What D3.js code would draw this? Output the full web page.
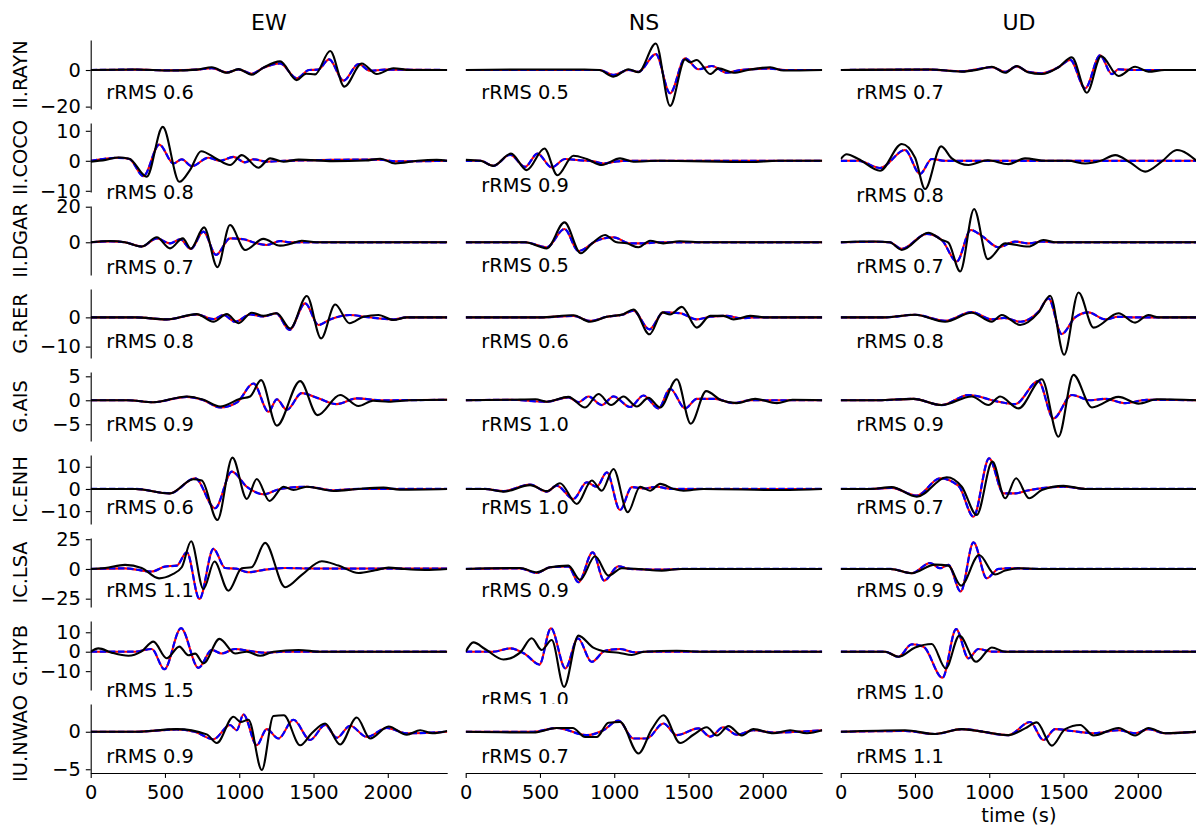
<!DOCTYPE html>
<html>
<head>
<meta charset="utf-8">
<script src="https://cdn.jsdelivr.net/npm/d3@7"></script>
<style>
  body { margin: 0; background: #fff; }
  svg { font-family: "DejaVu Sans", sans-serif; }
</style>
</head>
<body>
<div id="chart"></div>
<script>
// stations (rows) and components (columns)
const stations = ["II.RAYN", "II.COCO", "II.DGAR", "G.RER", "G.AIS", "IC.ENH", "IC.LSA", "G.HYB", "IU.NWAO"];
const components = ["EW", "NS", "UD"];
const rrms = [
    [0.6, 0.5, 0.7], [0.8, 0.9, 0.8], [0.7, 0.5, 0.7],
    [0.8, 0.6, 0.8], [0.9, 1.0, 0.9], [0.6, 1.0, 0.7],
    [1.1, 0.9, 0.9], [1.5, 1.0, 1.0], [0.9, 0.7, 1.1]
];
// y limits and ticks per row (shared across a row)
const yLims = [[-21.3, 16.4], [-10.4, 12.6], [-18.4, 20.4], [-13.9, 9.7], [-8.5, 5.9],
               [-15.8, 15.3], [-32, 26], [-19.7, 15.8], [-5.5, 3.7]];
const yTicks = [[-20, 0], [-10, 0, 10], [0, 20], [-10, 0], [-5, 0, 5],
                [-10, 0, 10], [-25, 0, 25], [-10, 0, 10], [-5, 0]];
const xTicks = [0, 500, 1000, 1500, 2000];
const xMax = 2400;
// where the rRMS note sits (time, amplitude)
const rmsTime = 105;
const rmsAt = [[-15.8, -15.8, -15.8], [-12.8, -10.3, -13.7], [-18, -16.5, -17.1],
               [-10.6, -10.6, -10.6], [-6.4, -6.4, -6.4], [-11.4, -11.4, -11.4],
               [-23.3, -23.3, -23.3], [-23.5, -28, -24.4], [-4.1, -4.1, -4.1]];

// waveforms: [time (s), amplitude], per component EW/NS/UD
const RAYN_obs = [
    [[0,0],[300,0.3],[540,-0.3],[714,0.2],[815,1.5],[916,-1.5],[995,0.5],[1084,-2.5],[1163,1.3],[1275,4.7],[1387,-5.5],[1450,-2.0],[1511,-2.4],[1612,10.4],[1708,-9.1],[1825,3.6],[1926,-2.2],[2038,1.0],[2150,0],[2400,0]],
    [[0,0],[400,0.3],[800,0.3],[900,0],[995,-3.6],[1096,0.4],[1163,-1.2],[1280,14.5],[1376,-19.6],[1477,5.8],[1511,4.2],[1556,5.5],[1646,-2.2],[1702,0.9],[1803,-1.5],[1900,0],[2050,1.5],[2140,-0.3],[2400,0]],
    [[0,0],[600,0.3],[815,-0.9],[930,0.3],[1017,1.8],[1107,-1.5],[1185,2.2],[1260,-1.2],[1354,-2.2],[1466,1.5],[1556,6.9],[1657,-12.4],[1753,7.6],[1870,-3.3],[1982,1.8],[2072,-0.9],[2180,0],[2400,0]]
];
const RAYN_syn = [
    [[0,0],[300,0.2],[540,-0.2],[714,0.2],[815,1.0],[916,-1.3],[995,0.3],[1084,-2.0],[1163,1.2],[1275,3.6],[1387,-4.5],[1470,0],[1530,0.2],[1605,5.8],[1702,-5.8],[1803,3.3],[1881,-0.4],[1980,0.2],[2400,0]],
    [[0,0],[900,0],[995,-2.7],[1096,0],[1163,-1],[1280,8.7],[1376,-12.7],[1477,6.4],[1567,0.4],[1657,2.2],[1758,-1.5],[1848,0],[2050,0.8],[2150,0],[2400,0]],
    [[0,0],[600,0.2],[815,-0.7],[1017,1.5],[1107,-1],[1185,2],[1260,-1],[1354,-1.8],[1466,1.5],[1545,5.5],[1646,-10],[1746,8],[1825,-2.2],[1870,0.4],[1950,0],[2400,0]]
];
const COCO_obs = [
    [[0,-0.3],[100,0.3],[186,1.1],[260,0.7],[377,-5.3],[485,11.3],[597,-7],[669,-3],[743,3.2],[849,0.6],[938,-1.4],[1017,1.9],[1129,-2.3],[1208,0.8],[1298,-0.3],[1400,0.4],[1630,-0.1],[1850,0.1],[1949,0.7],[2050,-0.9],[2200,0],[2330,0.3],[2400,0]],
    [[0,0.3],[100,0],[186,-1.7],[305,2.4],[411,-3.1],[530,4.1],[617,-4.8],[725,1.7],[815,0.6],[916,-1.4],[1039,0.8],[1129,-0.3],[1300,0],[1920,-0.4],[2100,0],[2400,0]],
    [[0,0.6],[40,2.2],[119,0.6],[265,-3.3],[411,5.6],[501,1],[568,-9.4],[676,4.8],[748,0.8],[860,-1.4],[990,0.2],[1129,-1.1],[1241,0.8],[1380,0],[1530,0],[1646,-0.9],[1750,0],[1848,1.9],[1950,-0.6],[2050,-3.6],[2160,-0.3],[2263,3.6],[2400,-0.2]]
];
const COCO_syn = [
    [[0,0],[186,1],[260,0.6],[355,-5.1],[462,5.4],[557,-0.9],[613,0.5],[680,-1.8],[792,1],[870,0],[961,1.3],[1039,-0.5],[1096,0.5],[1185,-0.3],[1300,0],[1949,0.4],[2050,-0.2],[2400,0]],
    [[0,0],[100,0],[186,-1.7],[299,2],[400,-2],[483,2.4],[579,-2.2],[669,0.6],[760,0.2],[860,-0.2],[927,-0.9],[1017,-0.2],[1100,0],[2400,0]],
    [[0,0],[119,0],[265,-2.4],[433,3.6],[534,-4.4],[613,0.6],[700,0],[2400,0]]
];
const DGAR_obs = [
    [[0,0],[130,0.7],[230,0],[343,-2.4],[445,2.8],[534,-3.4],[620,2.2],[674,-3.6],[763,8.4],[853,-14],[938,9.7],[1039,-4.3],[1163,1.9],[1275,-1.9],[1340,-1],[1421,0.9],[1520,0],[2400,0]],
    [[0,0],[400,0],[546,-3.4],[665,11.2],[775,-6.2],[849,-0.8],[938,4.1],[1010,0.2],[1084,-0.6],[1163,-2.8],[1241,0.9],[1330,-0.6],[1440,0.6],[1600,0],[2400,0]],
    [[0,0],[130,0.4],[231,0.4],[330,0],[411,-4.3],[590,5.4],[680,1.3],[725,-0.2],[804,-16.4],[898,18.7],[990,-9.5],[1107,-0.6],[1264,-2.4],[1365,1.3],[1440,0],[2400,0]]
];
const DGAR_syn = [
    [[0,0],[130,0.5],[230,0],[343,-2.4],[445,2.2],[534,-0.6],[602,1.7],[674,-3.7],[759,6],[844,-7.1],[938,2.2],[1028,1.7],[1118,-0.6],[1185,-1.5],[1275,0.7],[1340,0],[2400,0]],
    [[0,0],[400,0],[546,-2.8],[665,7.5],[759,-4.9],[882,0.9],[995,2.8],[1107,-0.6],[1200,-0.6],[1290,0],[2400,0]],
    [[0,0],[231,0.3],[330,0],[411,-3.7],[579,4.7],[680,1.3],[781,-10.8],[876,6.9],[950,3.6],[1062,-2.8],[1174,0.4],[1264,-0.6],[1354,0.4],[1440,0],[2400,0]]
];
const RER_obs = [
    [[0,0],[300,0],[512,-0.7],[714,1.1],[826,-1.5],[916,1.1],[995,-2],[1084,1.6],[1163,0.5],[1253,1.4],[1343,-3.8],[1455,7.3],[1551,-7.2],[1646,4.4],[1742,-2],[1836,0.2],[1937,0.8],[2038,-0.9],[2128,0],[2400,0]],
    [[0,0],[500,0],[725,0.7],[837,-1.5],[950,0.2],[1062,1.1],[1129,2.7],[1237,-5.8],[1325,1.7],[1376,1],[1455,3.6],[1556,-3.5],[1646,0.5],[1735,0.5],[1803,-0.7],[1915,0.5],[2020,0],[2400,0]],
    [[0,0],[300,0],[501,0.9],[703,-1.5],[882,1.6],[1017,-1.5],[1084,0.8],[1208,-2.6],[1331,1.6],[1410,7.4],[1504,-12.8],[1601,8.5],[1702,-3.5],[1870,1.4],[1982,-1.8],[2072,0.8],[2140,0],[2400,0]]
];
const RER_syn = [
    [[0,0],[300,0],[512,-0.7],[714,1],[826,-0.6],[894,0.8],[973,-1.5],[1073,1],[1163,0.3],[1248,1.4],[1338,-4.3],[1444,4.8],[1533,-2.6],[1612,-0.7],[1746,0.8],[1860,0.1],[2038,-0.7],[2128,0],[2400,0]],
    [[0,0],[500,0],[725,0.5],[837,-1.2],[950,0.2],[1062,1],[1129,2.3],[1237,-4.1],[1331,1.7],[1444,1.4],[1556,-0.7],[1646,0.2],[1758,0.5],[1848,-0.3],[1950,0],[2400,0]],
    [[0,0],[300,0],[501,0.9],[703,-1.2],[882,1.8],[1017,-0.7],[1100,-0.2],[1208,-1.5],[1331,1.9],[1399,6.5],[1488,-5.7],[1578,0],[1668,1.7],[1780,-0.7],[1870,0.2],[1960,0],[2400,0]]
];
const AIS_obs = [
    [[0,0],[250,0],[422,-0.4],[647,0.8],[760,0.1],[871,-1.3],[1006,0.3],[1073,0.8],[1147,4.2],[1253,-5.3],[1410,4],[1527,-3.1],[1679,1.1],[1803,-1.2],[1900,-0.1],[2005,-0.3],[2150,0],[2400,0.1]],
    [[0,0],[300,0.1],[470,0.2],[546,-0.3],[691,0.7],[804,-1.5],[894,1.3],[979,-1],[1062,0.8],[1152,-1.3],[1230,0.5],[1309,-1.5],[1421,4.4],[1515,-4.9],[1619,1.9],[1720,0],[1825,-0.6],[1949,0.3],[2095,-0.6],[2200,0.1],[2400,0]],
    [[0,0],[250,0],[489,0.3],[680,-1],[882,0.8],[995,-1],[1073,0.8],[1197,-1.7],[1354,4.4],[1466,-7.6],[1567,5.3],[1691,-1.5],[1870,0.7],[2005,-0.7],[2130,0.2],[2400,0]]
];
const AIS_syn = [
    [[0,0],[250,0],[422,-0.4],[647,0.7],[760,0],[871,-1.5],[983,-0.5],[1096,3.5],[1197,-2.4],[1253,0.2],[1320,-2],[1421,1.5],[1533,0.4],[1657,-0.8],[1791,0.4],[1950,0],[2400,0.1]],
    [[0,0],[300,0.1],[546,-0.3],[691,0.6],[760,-0.4],[826,0.8],[916,-1],[995,0.8],[1107,-1.4],[1197,1],[1298,-1.7],[1376,2.4],[1477,-1.7],[1556,0.3],[1680,0.3],[1803,-0.6],[1915,0],[2400,0]],
    [[0,0],[250,0],[489,0.3],[680,-1],[860,1.1],[1062,-0.3],[1174,-0.8],[1331,4],[1432,-3.8],[1556,1.1],[1680,0],[1780,0.3],[1915,-0.6],[2060,0.1],[2400,0]]
];
const ENH_obs = [
    [[0,0],[300,0],[534,-2],[691,4.4],[748,3.8],[853,-14],[954,14.1],[1051,-4.5],[1118,4.5],[1203,-5.4],[1298,1],[1365,-0.5],[1455,1],[1634,-0.9],[1800,0],[1971,0.6],[2080,-0.3],[2400,0]],
    [[0,0],[130,0],[254,-1.2],[433,1.7],[546,-1],[635,2.6],[748,-6.8],[849,3.8],[916,-0.8],[995,9],[1091,-10.5],[1174,1],[1241,-0.8],[1309,2.3],[1400,0],[1466,-0.8],[1600,0],[2130,-0.5],[2400,0]],
    [[0,0],[200,0],[343,0.8],[512,-3.5],[714,5.3],[815,1],[916,-11.7],[1021,12.3],[1107,-4.2],[1181,4.8],[1268,-4.2],[1354,-0.5],[1500,1.4],[1650,0],[2400,0]]
];
const ENH_syn = [
    [[0,0],[300,0],[534,-2],[703,4.8],[837,-8.7],[950,7.8],[1051,1],[1163,-2.4],[1275,0],[1455,1],[1634,-0.6],[1800,0],[2400,0]],
    [[0,0],[130,0],[254,-1],[433,2],[546,-1.2],[613,1.5],[725,-4.5],[815,3],[882,1],[950,7.5],[1039,-9.5],[1118,0.8],[1200,0.2],[1286,1],[1380,0],[2400,0]],
    [[0,0],[200,0],[343,0.5],[512,-3],[669,4.8],[794,1.3],[894,-12.5],[999,13.8],[1096,-2],[1174,-2],[1250,-0.8],[1500,1],[1650,0],[2400,0]]
];
const LSA_obs = [
    [[0,0],[97,0.8],[231,3.4],[343,0.8],[460,-7.9],[546,-4.8],[613,1.4],[676,23.3],[759,-16.9],[833,6.2],[927,-18.3],[1017,0.5],[1084,1.5],[1174,21.9],[1309,-15.4],[1421,-5],[1556,6.5],[1668,2.8],[1803,-3.4],[1915,-1.1],[2005,1.1],[2110,0],[2250,-0.8],[2400,0]],
    [[0,0],[366,0.8],[478,-2.8],[568,1.4],[691,2.8],[770,-9.2],[871,10.6],[961,-5.6],[1051,0.6],[1163,0],[1320,-1.4],[1450,0],[2400,0]],
    [[0,0],[335,0],[478,-3.6],[635,3.6],[725,2.8],[810,-14],[932,11.7],[1039,-4.7],[1107,-1.4],[1197,0.6],[1330,0],[2400,0]]
];
const LSA_syn = [
    [[0,0],[231,0.5],[411,-2.2],[501,2],[579,2.8],[647,14],[732,-25.3],[826,16.9],[905,0.8],[980,0.2],[1062,-2.8],[1174,-0.6],[1309,0.8],[1500,0.3],[2400,0.3]],
    [[0,0],[366,0.5],[478,-3.4],[568,1.4],[691,2],[759,-11.2],[855,14],[932,-9.8],[1028,2.2],[1107,0],[1320,-0.6],[1450,0],[2400,0]],
    [[0,0],[335,0],[478,-3.6],[602,5],[669,0.6],[725,3.4],[808,-19],[894,22.3],[983,-7.8],[1062,0],[1150,0.6],[1300,0],[2400,0]]
];
const HYB_obs = [
    [[0,0],[52,1.7],[141,-0.5],[254,-2.1],[340,0],[422,5.2],[512,-3.4],[597,2.6],[657,-1.8],[703,-1],[759,-6],[867,6.6],[972,-0.9],[1051,0],[1140,-2.1],[1230,0],[1399,0.9],[1550,0],[2400,0]],
    [[0,0],[52,4.8],[130,1.4],[254,-4],[366,-0.5],[444,6.9],[512,0.9],[579,6],[662,-18.1],[759,8.3],[859,2.1],[950,0],[1030,-0.5],[1118,-1.7],[1200,0],[1421,0.5],[1600,0],[2400,0]],
    [[0,0],[299,0],[388,-2.6],[501,2.2],[613,4],[707,-8.6],[799,8.3],[911,-5.2],[1017,2.2],[1107,0],[2400,0]]
];
const HYB_syn = [
    [[0,0],[299,0],[411,1.4],[496,-9],[608,12.1],[725,-8.3],[815,0.9],[882,-0.9],[972,1.4],[1062,0.5],[1174,-0.5],[1300,0],[2400,0]],
    [[0,0],[186,0],[299,1.7],[400,-1.2],[496,-6.6],[574,12.1],[671,-8.6],[755,6.9],[848,-5.2],[938,0.5],[1039,1.4],[1140,-0.3],[1220,0],[2400,0]],
    [[0,0],[299,0],[388,-2.6],[478,3.8],[557,2.6],[685,-13.4],[777,11.6],[860,-3.4],[927,1.4],[1017,0],[2400,0]]
];
const NWAO_obs = [
    [[0,0],[300,0],[579,0.35],[781,-0.35],[849,-1.5],[961,2],[1010,1.3],[1062,1.6],[1152,-5.1],[1230,2.1],[1300,2.2],[1410,-1.8],[1488,-0.2],[1578,1.1],[1679,-1.7],[1791,1.9],[1881,-0.9],[2005,0.7],[2128,-0.4],[2218,0.2],[2300,-0.2],[2400,0.1]],
    [[0,0],[456,-0.1],[613,0.5],[720,0.5],[804,-0.7],[882,-0.7],[961,1.2],[1039,1.3],[1163,-2.9],[1253,0.35],[1331,2.2],[1444,-1.5],[1533,-0.4],[1623,0.6],[1691,-0.5],[1769,0.75],[1859,-0.5],[1937,0.35],[2072,-0.2],[2184,0.2],[2297,-0.2],[2400,0.2]],
    [[0,0],[433,0.2],[635,-0.3],[815,0.35],[960,0],[1129,-0.45],[1241,0.45],[1320,1.25],[1421,-1.85],[1511,0.35],[1612,0.9],[1702,-0.5],[1870,0.5],[1982,-0.5],[2072,0.5],[2184,-0.2],[2400,0]]
];
const NWAO_syn = [
    [[0,0],[300,0],[579,0.3],[700,0],[826,-1],[938,0.9],[983,0.2],[1028,2.3],[1118,-1.8],[1185,0.35],[1264,-0.9],[1365,1.6],[1477,-1.1],[1578,0.9],[1657,-0.8],[1746,0.8],[1859,-0.7],[1993,0.5],[2128,-0.2],[2400,0]],
    [[0,0],[456,0],[613,0.5],[815,-0.45],[927,0.2],[1028,1.5],[1129,-0.9],[1219,-0.9],[1331,1.1],[1421,-0.45],[1567,0.45],[1646,-0.65],[1735,0.6],[1825,-0.4],[1937,0.2],[2072,-0.1],[2400,0.2]],
    [[0,0],[433,0.1],[635,-0.3],[815,0.35],[1129,-0.45],[1275,1.3],[1365,-1.1],[1444,0.35],[1556,0.1],[1702,-0.2],[1870,0.2],[1982,-0.2],[2072,0.35],[2184,-0.2],[2400,0]]
];

const observed = [RAYN_obs, COCO_obs, DGAR_obs, RER_obs, AIS_obs, ENH_obs, LSA_obs, HYB_obs, NWAO_obs];
const synthetic = [RAYN_syn, COCO_syn, DGAR_syn, RER_syn, AIS_syn, ENH_syn, LSA_syn, HYB_syn, NWAO_syn];

// layout
const width = 1196, height = 830;
const marginLeft = 90.7, marginTop = 40;
const panelW = 356.5, panelH = 69;
const colStep = 375, rowStep = 83;
const fontSize = 19.4;
const minus = d => d < 0 ? "\u2212" + Math.abs(d) : String(d);

const svg = d3.select("#chart").append("svg")
    .attr("width", width)
    .attr("height", height);

svg.append("rect").attr("width", width).attr("height", height).attr("fill", "#fff");

const x = d3.scaleLinear().domain([0, xMax]).range([0, panelW]);

// column titles
components.forEach((comp, c) => {
    svg.append("text")
        .attr("x", marginLeft + c * colStep + panelW / 2)
        .attr("y", 30)
        .attr("text-anchor", "middle")
        .attr("font-size", 22)
        .text(comp);
});

stations.forEach((st, r) => {
    const y = d3.scaleLinear().domain(yLims[r]).range([panelH, 0]);
    const line = d3.line()
        .x(d => x(d[0]))
        .y(d => y(d[1]))
        .curve(d3.curveMonotoneX);

    components.forEach((comp, c) => {
        const g = svg.append("g")
            .attr("transform", `translate(${marginLeft + c * colStep},${marginTop + r * rowStep})`);

        // axes background, covers anything spilling from the row above
        g.append("rect")
            .attr("width", panelW)
            .attr("height", panelH)
            .attr("fill", "#fff");

        const clipId = `clip-${r}-${c}`;
        g.append("clipPath").attr("id", clipId)
            .append("rect").attr("width", panelW).attr("height", panelH);

        const traces = g.append("g").attr("clip-path", `url(#${clipId})`);

        traces.append("path")
            .datum(synthetic[r][c])
            .attr("d", line)
            .attr("fill", "none")
            .attr("stroke", "red")
            .attr("stroke-width", 2.1);

        traces.append("path")
            .datum(synthetic[r][c])
            .attr("d", line)
            .attr("fill", "none")
            .attr("stroke", "blue")
            .attr("stroke-width", 2.2)
            .attr("stroke-dasharray", "6.5,2.6");

        traces.append("path")
            .datum(observed[r][c])
            .attr("d", line)
            .attr("fill", "none")
            .attr("stroke", "black")
            .attr("stroke-width", 2.1);

        // y axis only on the first column
        if (c === 0) {
            const ay = g.append("g")
                .call(d3.axisLeft(y)
                    .tickValues(yTicks[r])
                    .tickSize(4.9)
                    .tickSizeOuter(0)
                    .tickPadding(4.9)
                    .tickFormat(minus));
            ay.attr("font-size", fontSize).attr("font-family", "DejaVu Sans, sans-serif");
            ay.selectAll("line, path").attr("stroke", "#000").attr("stroke-width", 1.1);
            ay.selectAll("text").attr("fill", "#000");

            svg.append("text")
                .attr("transform", `translate(27,${marginTop + r * rowStep + panelH / 2}) rotate(-90)`)
                .attr("text-anchor", "middle")
                .attr("font-size", fontSize)
                .text(st);
        }

        // x axis only on the bottom row
        if (r === stations.length - 1) {
            const ax = g.append("g")
                .attr("transform", `translate(0,${panelH})`)
                .call(d3.axisBottom(x)
                    .tickValues(xTicks)
                    .tickSize(4.9)
                    .tickSizeOuter(0)
                    .tickPadding(7)
                    .tickFormat(d3.format("d")));
            ax.attr("font-size", fontSize).attr("font-family", "DejaVu Sans, sans-serif");
            ax.selectAll("line, path").attr("stroke", "#000").attr("stroke-width", 1.1);
            ax.selectAll("text").attr("fill", "#000");
        }

        g.append("text")
            .attr("x", x(rmsTime))
            .attr("y", y(rmsAt[r][c]))
            .attr("font-size", fontSize)
            .text("rRMS " + rrms[r][c].toFixed(1));
    });
});

svg.append("text")
    .attr("x", marginLeft + 2 * colStep + panelW / 2)
    .attr("y", 822)
    .attr("text-anchor", "middle")
    .attr("font-size", fontSize)
    .text("time (s)");
</script>
</body>
</html>
